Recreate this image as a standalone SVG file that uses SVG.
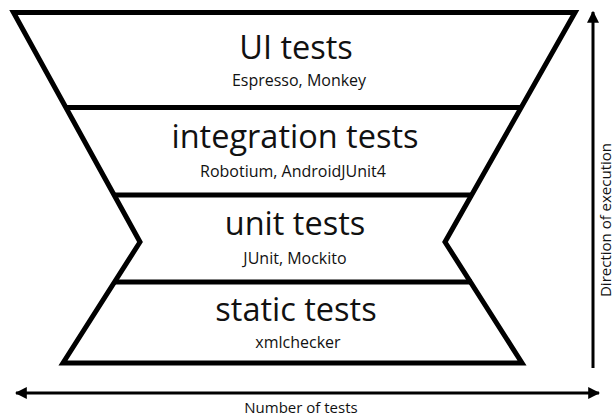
<svg xmlns="http://www.w3.org/2000/svg" width="616" height="417" viewBox="0 0 616 417">
<style>
.edge{fill:none;stroke:#000;stroke-width:5;stroke-linejoin:miter}
.div{stroke:#000;stroke-width:5}
.title{font-family:"Open Sans","Liberation Sans",sans-serif;font-size:32.5px;fill:#111;text-anchor:middle}
.sub{font-family:"Open Sans","Liberation Sans",sans-serif;font-size:16px;fill:#111;text-anchor:middle}
.axis{font-family:"Open Sans","Liberation Sans",sans-serif;font-size:15px;fill:#111;text-anchor:middle}
.arr{stroke:#000;stroke-width:3;fill:none}
</style>
<defs>
<marker id="ah" viewBox="0 0 10 10" refX="9" refY="5" markerWidth="4" markerHeight="4" markerUnits="strokeWidth" orient="auto-start-reverse">
<path d="M0,0 L10,5 L0,10 z" fill="#000"/>
</marker>
</defs>
<rect width="616" height="417" fill="#fff"/>
<g id="outline">
<path class="edge" d="M13.5,12.5 L575,12.5 L445,242 L522,363 L63,363 L140,242 Z"/>
</g>
<g id="ui-tests">
<line class="div" x1="65" y1="107.5" x2="522" y2="107.5"/>
<text class="title" x="296" y="59">UI tests</text>
<text class="sub" x="299" y="86">Espresso, Monkey</text>
</g>
<g id="integration-tests">
<line class="div" x1="113" y1="195" x2="473" y2="195"/>
<text class="title" x="295" y="148">integration tests</text>
<text class="sub" x="293" y="177">Robotium, AndroidJUnit4</text>
</g>
<g id="unit-tests">
<line class="div" x1="114" y1="282" x2="472" y2="282"/>
<text class="title" x="295" y="235">unit tests</text>
<text class="sub" x="295" y="264">JUnit, Mockito</text>
</g>
<g id="static-tests">
<text class="title" x="296" y="321">static tests</text>
<text class="sub" x="298" y="348">xmlchecker</text>
</g>
<g id="connectors">
<line class="arr" x1="593" y1="368" x2="593" y2="12" marker-end="url(#ah)"/>
<line class="arr" x1="16" y1="393" x2="599" y2="393" marker-start="url(#ah)" marker-end="url(#ah)"/>
</g>
<g id="labels">
<text class="axis" x="301" y="413">Number of tests</text>
<text class="axis" transform="translate(611,220) rotate(-90)">Direction of execution</text>
</g>
</svg>
